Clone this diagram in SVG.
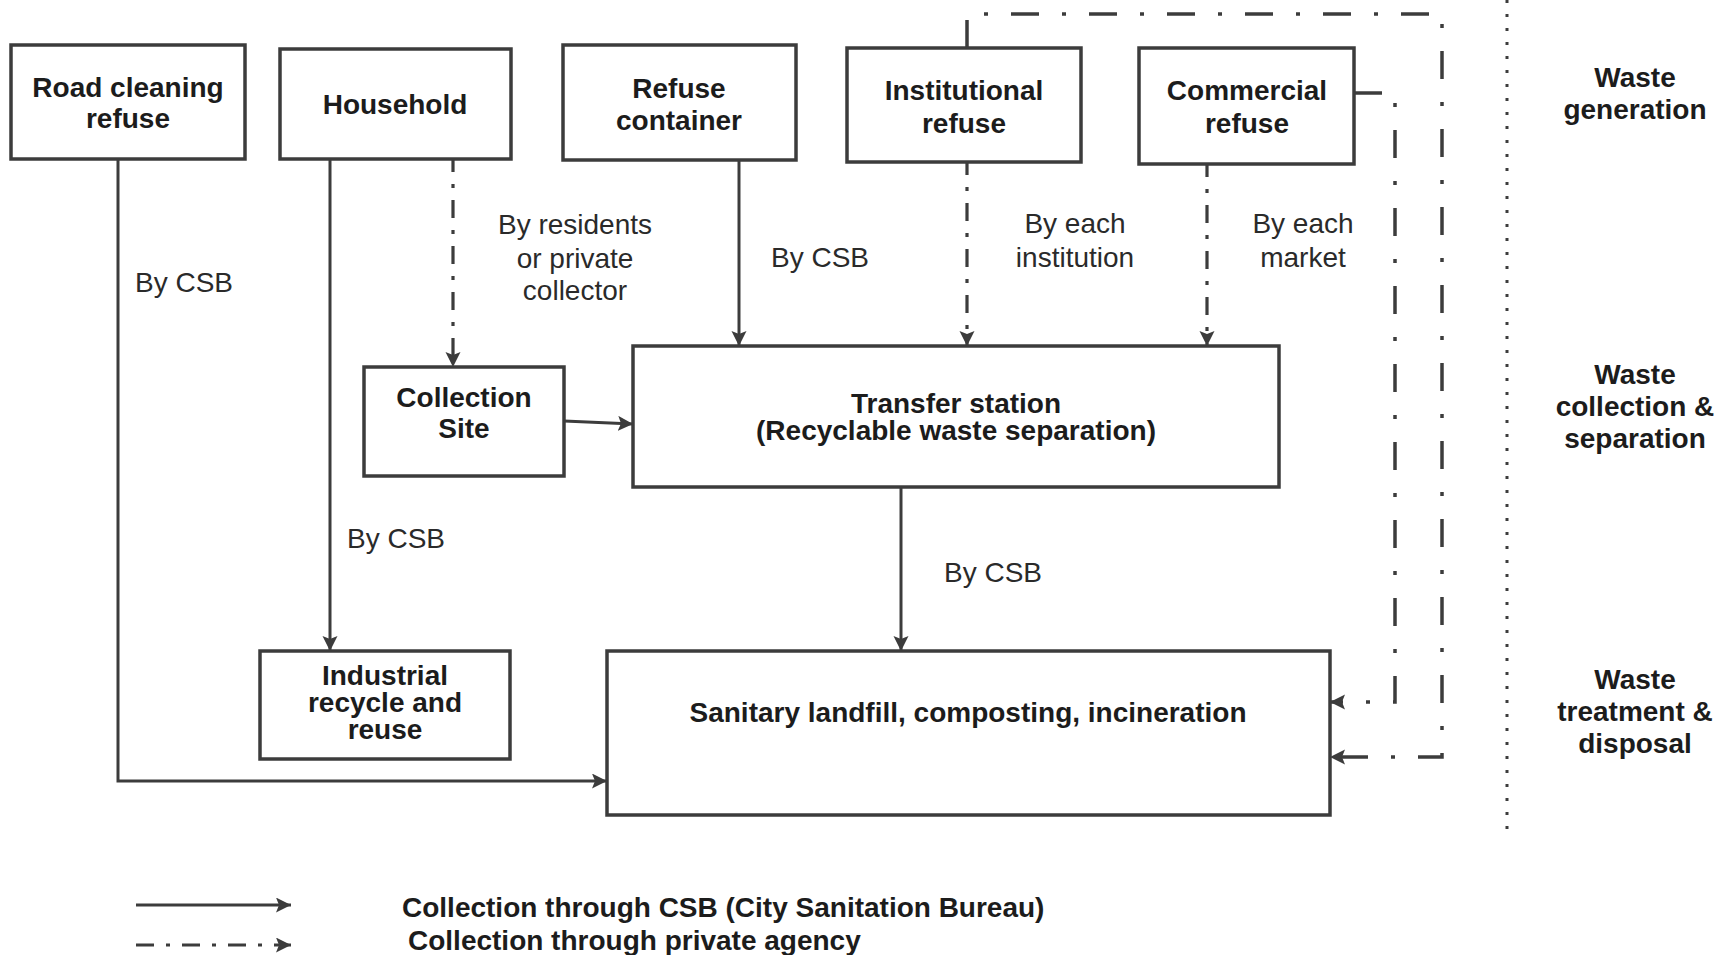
<svg xmlns="http://www.w3.org/2000/svg" width="1733" height="955" viewBox="0 0 1733 955">
  <style>
    .box { fill: #ffffff; stroke: #3c3c3c; stroke-width: 3.5; }
    .lbl { font-family: "Liberation Sans", Arial, sans-serif; font-size: 28px; font-weight: bold; fill: #1c1c1c; text-anchor: middle; }
    .note { font-family: "Liberation Sans", Arial, sans-serif; font-size: 28px; fill: #2a2a2a; text-anchor: middle; }
    .left { text-anchor: start; }
    .csb { fill: none; stroke: #3c3c3c; stroke-width: 3; }
    .priv { fill: none; stroke: #3c3c3c; stroke-width: 3.2; stroke-dasharray: 18 12 4 12; }
    .privlong { fill: none; stroke: #3c3c3c; stroke-width: 3.5; stroke-dasharray: 28 23 4 23; }
    .divider { fill: none; stroke: #3c3c3c; stroke-width: 3; stroke-dasharray: 3 11; }
  </style>
  <defs>
    <marker id="arrow" markerUnits="userSpaceOnUse" markerWidth="16" markerHeight="16" refX="15" refY="7.5" orient="auto">
      <path d="M0,0 L15,7.5 L0,15 L3,7.5 Z" fill="#3c3c3c"/>
    </marker>
  </defs>

  <rect width="1733" height="955" fill="#ffffff"/>

  <!-- connectors -->
  <g id="connectors">
    <!-- City Sanitation Bureau routes -->
    <path class="csb" d="M118,159 V781 H607" marker-end="url(#arrow)"/>
    <path class="csb" d="M330,159 V651" marker-end="url(#arrow)"/>
    <path class="csb" d="M564,421 L633,424" marker-end="url(#arrow)"/>
    <path class="csb" d="M739,160 V346" marker-end="url(#arrow)"/>
    <path class="csb" d="M901,487 V651" marker-end="url(#arrow)"/>

    <!-- private collection routes -->
    <path class="priv" stroke-dashoffset="5" d="M453,159 V367" marker-end="url(#arrow)"/>
    <path class="priv" stroke-dashoffset="5" d="M967,162 V346" marker-end="url(#arrow)"/>
    <path class="priv" stroke-dashoffset="5" d="M1207,164 V346" marker-end="url(#arrow)"/>
    <path class="privlong" d="M967,48 V14 H1442 V757 H1330" marker-end="url(#arrow)"/>
    <path class="privlong" d="M1354,93 H1395 V702 H1330" marker-end="url(#arrow)"/>

    <!-- stage divider -->
    <path class="divider" d="M1507,0 V830"/>
  </g>

  <!-- waste sources -->
  <g id="road-cleaning">
    <rect class="box" x="11" y="45" width="234" height="114"/>
    <text class="lbl" x="128" y="97">Road cleaning</text>
    <text class="lbl" x="128" y="128">refuse</text>
  </g>
  <g id="household">
    <rect class="box" x="280" y="49" width="231" height="110"/>
    <text class="lbl" x="395" y="114">Household</text>
  </g>
  <g id="refuse-container">
    <rect class="box" x="563" y="45" width="233" height="115"/>
    <text class="lbl" x="679" y="98">Refuse</text>
    <text class="lbl" x="679" y="130">container</text>
  </g>
  <g id="institutional-refuse">
    <rect class="box" x="847" y="48" width="234" height="114"/>
    <text class="lbl" x="964" y="100">Institutional</text>
    <text class="lbl" x="964" y="133">refuse</text>
  </g>
  <g id="commercial-refuse">
    <rect class="box" x="1139" y="48" width="215" height="116"/>
    <text class="lbl" x="1247" y="100">Commercial</text>
    <text class="lbl" x="1247" y="133">refuse</text>
  </g>

  <!-- collection and separation -->
  <g id="collection-site">
    <rect class="box" x="364" y="367" width="200" height="109"/>
    <text class="lbl" x="464" y="407">Collection</text>
    <text class="lbl" x="464" y="438">Site</text>
  </g>
  <g id="transfer-station">
    <rect class="box" x="633" y="346" width="646" height="141"/>
    <text class="lbl" x="956" y="413">Transfer station</text>
    <text class="lbl" x="956" y="440">(Recyclable waste separation)</text>
  </g>

  <!-- treatment and disposal -->
  <g id="industrial-recycle">
    <rect class="box" x="260" y="651" width="250" height="108"/>
    <text class="lbl" x="385" y="685">Industrial</text>
    <text class="lbl" x="385" y="712">recycle and</text>
    <text class="lbl" x="385" y="739">reuse</text>
  </g>
  <g id="landfill">
    <rect class="box" x="607" y="651" width="723" height="164"/>
    <text class="lbl" x="968" y="722">Sanitary landfill, composting, incineration</text>
  </g>

  <!-- route labels -->
  <g id="route-labels">
    <text class="note left" x="135" y="292">By CSB</text>
    <text class="note" x="575" y="234">By residents</text>
    <text class="note" x="575" y="268">or private</text>
    <text class="note" x="575" y="300">collector</text>
    <text class="note left" x="771" y="267">By CSB</text>
    <text class="note" x="1075" y="233">By each</text>
    <text class="note" x="1075" y="267">institution</text>
    <text class="note" x="1303" y="233">By each</text>
    <text class="note" x="1303" y="267">market</text>
    <text class="note left" x="347" y="548">By CSB</text>
    <text class="note left" x="944" y="582">By CSB</text>
  </g>

  <!-- stage headings -->
  <g id="stages">
    <text class="lbl" x="1635" y="87">Waste</text>
    <text class="lbl" x="1635" y="119">generation</text>
    <text class="lbl" x="1635" y="384">Waste</text>
    <text class="lbl" x="1635" y="416">collection &amp;</text>
    <text class="lbl" x="1635" y="448">separation</text>
    <text class="lbl" x="1635" y="689">Waste</text>
    <text class="lbl" x="1635" y="721">treatment &amp;</text>
    <text class="lbl" x="1635" y="753">disposal</text>
  </g>

  <!-- legend -->
  <g id="legend">
    <path class="csb" d="M136,905 H291" marker-end="url(#arrow)"/>
    <path class="priv" d="M136,945 H291" marker-end="url(#arrow)"/>
    <text class="lbl left" x="402" y="917">Collection through CSB (City Sanitation Bureau)</text>
    <text class="lbl left" x="408" y="950">Collection through private agency</text>
  </g>
</svg>
